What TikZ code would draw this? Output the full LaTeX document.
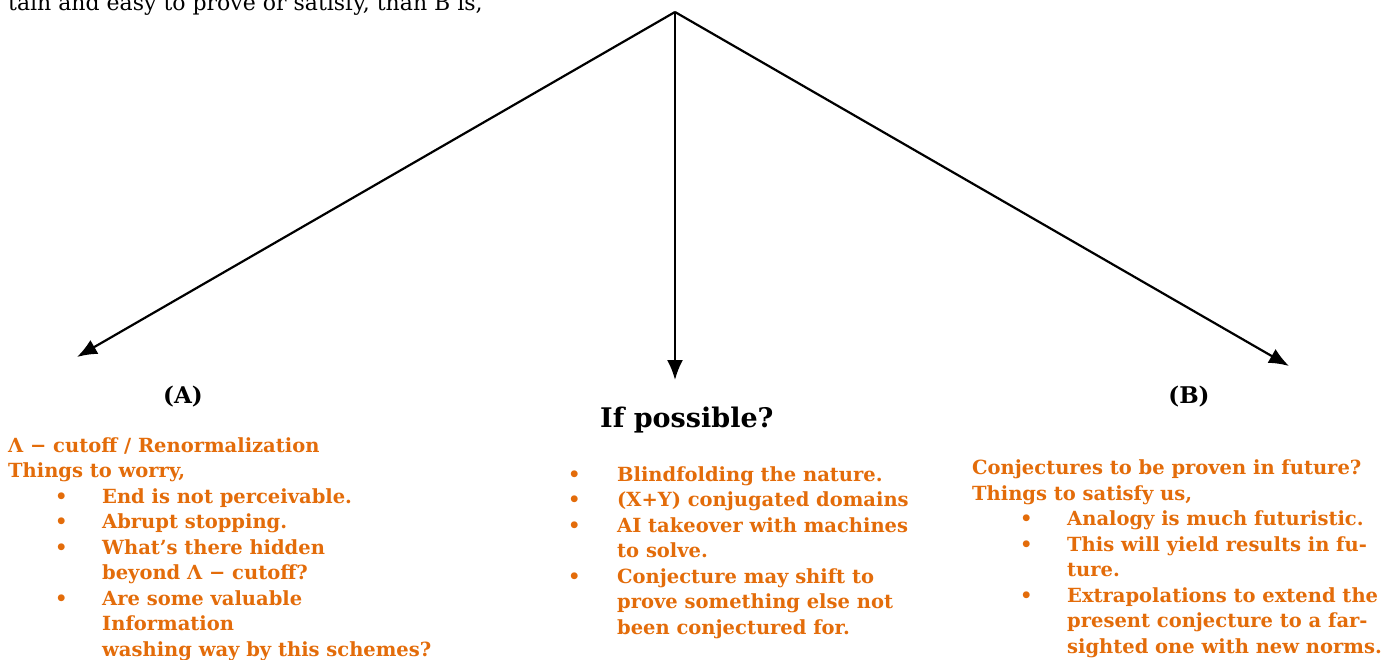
\documentclass[tikz,border=0pt]{standalone}
\usepackage{fontspec}
\setmainfont{DejaVu Serif}
\usepackage{tikz}
\usetikzlibrary{arrows.meta}

\definecolor{worryorange}{HTML}{E36C0A}
\newcommand{\bul}[1]{\makebox[#1][l]{\textbullet}}
\tikzset{
  branch/.style={line width=2.2pt,-{Latex[length=20pt,width=16pt]}},
  caselabel/.style={font=\fontsize{23}{27}\selectfont\bfseries,inner sep=0pt},
  notes/.style={font=\fontsize{19.5}{25.5}\selectfont\bfseries,text=worryorange,
    align=left,inner sep=0pt,anchor=base west}
}

\begin{document}
\begin{tikzpicture}[x=1pt,y=-1pt]
            \useasboundingbox (0,0) rectangle (1399,659);
            \node[anchor=base west,inner sep=0pt,font=\fontsize{22}{26}\selectfont] (prev) at (8,10)
              {tain and easy to prove or satisfy, than B is,};

            \coordinate (apex) at (675,12);
            \coordinate (endA) at (77,357);
            \coordinate (endmid) at (675,380);
            \coordinate (endB) at (1289,366);
            \draw[branch] (apex) -- (endA);
            \draw[branch] (apex) -- (endmid);
            \draw[branch] (apex) -- (endB);

            \node[caselabel,anchor=base] (labA) at (183,403) {(A)};
            \node[caselabel,anchor=base] (labB) at (1189,403) {(B)};
            \node[caselabel,anchor=base west,font=\fontsize{27}{32}\selectfont\bfseries] (possible) at (600,427) {If possible?};

            \node[notes] (worry) at (8,656)
              {Λ − cutoff / Renormalization\\
               Things to worry,\\
               \hspace*{47pt}\bul{47pt}End is not perceivable.\\
               \hspace*{47pt}\bul{47pt}Abrupt stopping.\\
               \hspace*{47pt}\bul{47pt}What’s there hidden\\
               \hspace*{94pt}beyond Λ − cutoff?\\
               \hspace*{47pt}\bul{47pt}Are some valuable\\
               \hspace*{94pt}Information\\
               \hspace*{94pt}washing way by this schemes?};

            \node[notes] (maybe) at (568,634)
              {\bul{49pt}Blindfolding the nature.\\
               \bul{49pt}(X+Y) conjugated domains\\
               \bul{49pt}AI takeover with machines\\
               \hspace*{49pt}to solve.\\
               \bul{49pt}Conjecture may shift to\\
               \hspace*{49pt}prove something else not\\
               \hspace*{49pt}been conjectured for.};

            \node[notes] (satisfy) at (972,653)
              {Conjectures to be proven in future?\\
               Things to satisfy us,\\
               \hspace*{48pt}\bul{47pt}Analogy is much futuristic.\\
               \hspace*{48pt}\bul{47pt}This will yield results in fu-\\
               \hspace*{95pt}ture.\\
               \hspace*{48pt}\bul{47pt}Extrapolations to extend the\\
               \hspace*{95pt}present conjecture to a far-\\
               \hspace*{95pt}sighted one with new norms.};
          \end{tikzpicture}
\end{document}
